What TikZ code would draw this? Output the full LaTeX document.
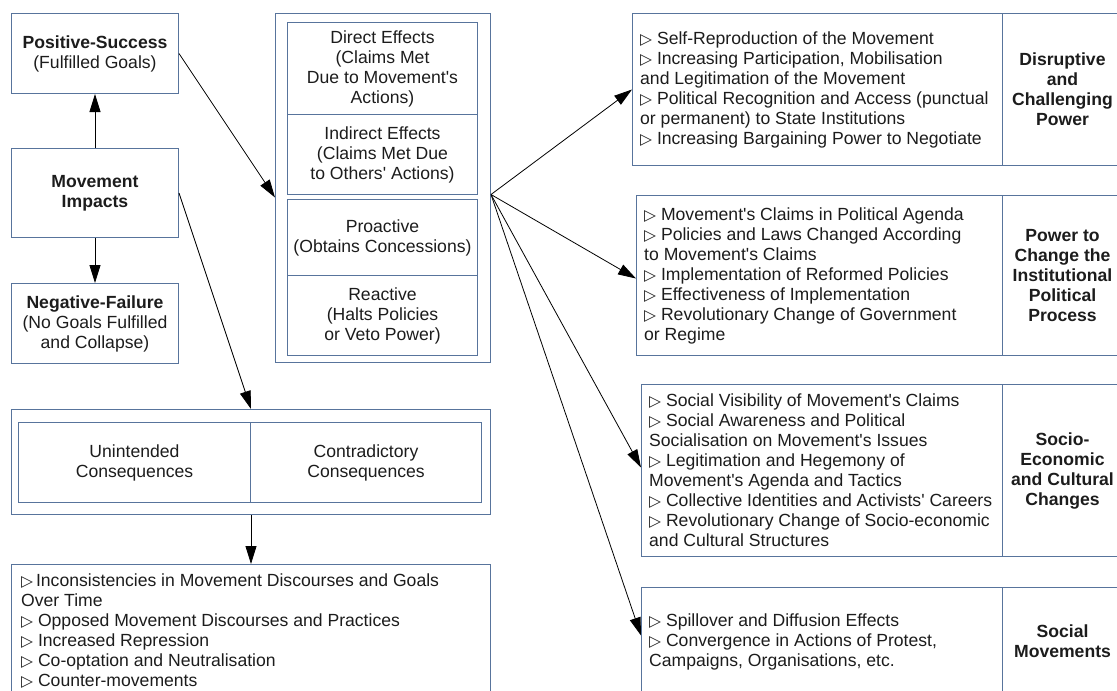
\documentclass[tikz,border=0pt]{standalone}
\usepackage{fontspec}
\setmainfont{Liberation Sans}[Ligatures=TeXOff]
\newfontfamily\dejavu{DejaVu Sans}
\usetikzlibrary{arrows.meta}
\definecolor{boxc}{RGB}{88,116,156}
\definecolor{txtc}{RGB}{28,28,28}
\newcommand\tri{{\fontsize{15.5}{20}\selectfont\dejavu\bfseries ▷}}
\begin{document}
\begin{tikzpicture}[x=1pt,y=-1pt,
  every node/.style={font=\fontsize{17.6}{20}\selectfont, text=txtc},
  box/.style={draw=boxc, line width=1pt, rectangle, inner sep=0pt, anchor=north west, align=center},
  listtxt/.style={inner sep=0pt, anchor=west, align=left},
  title/.style={font=\fontsize{17.6}{20}\selectfont\bfseries},
  arr/.style={draw=black, line width=0.8pt, -{Triangle[length=18pt,width=11pt]}}]
\path[use as bounding box] (0,0) rectangle (1117,691);
\clip (0,0) rectangle (1117,691);

% left column
\node[box, minimum width=167pt, minimum height=80pt] (pos) at (11,13)
  {\textbf{Positive-Success}\\(Fulfilled Goals)};
\node[box, minimum width=167pt, minimum height=89pt] (mi) at (11,148)
  {\textbf{Movement}\\\textbf{Impacts}};
\node[box, minimum width=167pt, minimum height=80pt] (neg) at (11,283)
  {\textbf{Negative-Failure}\\(No Goals Fulfilled\\and Collapse)};

% middle column
\node[box, minimum width=215pt, minimum height=349pt] (mid) at (275,13) {};
\node[box, minimum width=190pt, minimum height=92pt] (dir) at (287,22)
  {Direct Effects\\(Claims Met\\Due to Movement's\\Actions)};
\node[box, minimum width=190pt, minimum height=80pt] (ind) at (287,114)
  {Indirect Effects\\(Claims Met Due\\to Others' Actions)};
\node[box, minimum width=190pt, minimum height=76pt] (pro) at (287,199)
  {Proactive\\(Obtains Concessions)};
\node[box, minimum width=190pt, minimum height=80pt] (rea) at (287,275)
  {Reactive\\(Halts Policies\\or Veto Power)};

% consequences
\node[box, minimum width=479pt, minimum height=105pt] (cons) at (11,409) {};
\node[box, minimum width=232pt, minimum height=80pt] (unint) at (18,422)
  {Unintended\\Consequences};
\node[box, minimum width=231pt, minimum height=80pt] (contr) at (250,422)
  {Contradictory\\Consequences};

% bottom list
\node[box, minimum width=479pt, minimum height=140pt] (bot) at (11,564) {};
\node[listtxt] (bott) at (21,631)
  {\tri\,Inconsistencies in Movement Discourses and Goals\\Over Time\\
   \tri{} Opposed Movement Discourses and Practices\\
   \tri{} Increased Repression\\
   \tri{} Co-optation and Neutralisation\\
   \tri{} Counter-movements};

% right column
\node[box, minimum width=370pt, minimum height=152pt] (r1) at (632,13) {};
\node[box, minimum width=120pt, minimum height=152pt, title] (r1h) at (1002,13)
  {Disruptive\\and\\Challenging\\Power};
\node[listtxt] (r1t) at ([xshift=8pt]r1.west)
  {\tri{} Self-Reproduction of the Movement\\
   \tri{} Increasing Participation, Mobilisation\\and Legitimation of the Movement\\
   \tri{} Political Recognition and Access (punctual\\or permanent) to State Institutions\\
   \tri{} Increasing Bargaining Power to Negotiate};

\node[box, minimum width=366pt, minimum height=160pt] (r2) at (636,195) {};
\node[box, minimum width=120pt, minimum height=160pt, title] (r2h) at (1002,195)
  {Power to\\Change the\\Institutional\\Political\\Process};
\node[listtxt] (r2t) at ([xshift=8pt]r2.west)
  {\tri{} Movement's Claims in Political Agenda\\
   \tri{} Policies and Laws Changed According\\to Movement's Claims\\
   \tri{} Implementation of Reformed Policies\\
   \tri{} Effectiveness of Implementation\\
   \tri{} Revolutionary Change of Government\\or Regime};

\node[box, minimum width=361pt, minimum height=172pt] (r3) at (641,384) {};
\node[box, minimum width=120pt, minimum height=172pt, title] (r3h) at (1002,384)
  {Socio-\\Economic\\and Cultural\\Changes};
\node[listtxt] (r3t) at ([xshift=8pt]r3.west)
  {\tri{} Social Visibility of Movement's Claims\\
   \tri{} Social Awareness and Political\\Socialisation on Movement's Issues\\
   \tri{} Legitimation and Hegemony of\\Movement's Agenda and Tactics\\
   \tri{} Collective Identities and Activists' Careers\\
   \tri{} Revolutionary Change of Socio-economic\\and Cultural Structures};

\node[box, minimum width=361pt, minimum height=108pt] (r4) at (641,587) {};
\node[box, minimum width=120pt, minimum height=108pt, title] (r4h) at (1002,587)
  {Social\\Movements};
\node[listtxt] (r4t) at ([xshift=8pt]r4.west)
  {\tri{} Spillover and Diffusion Effects\\
   \tri{} Convergence in Actions of Protest,\\Campaigns, Organisations, etc.};

% connectors
\draw[arr] (mi.north) -- (pos.south);
\draw[arr] (mi.south) -- (neg.north);
\draw[arr] (pos.east) -- ([yshift=-9.5pt]mid.west);
\draw[arr] (mi.east) -- (cons.north);
\draw[arr] (cons.south) -- (bot.north);
\coordinate (fan) at ([yshift=-6.5pt]mid.east);
\draw[arr] (fan) -- (r1.west);
\draw[arr] (fan) -- ([yshift=-3pt]r2.west);
\draw[arr] (fan) -- ([yshift=3pt]r3.west);
\draw[arr] (fan) -- ([yshift=6pt]r4.west);
\end{tikzpicture}
\end{document}
